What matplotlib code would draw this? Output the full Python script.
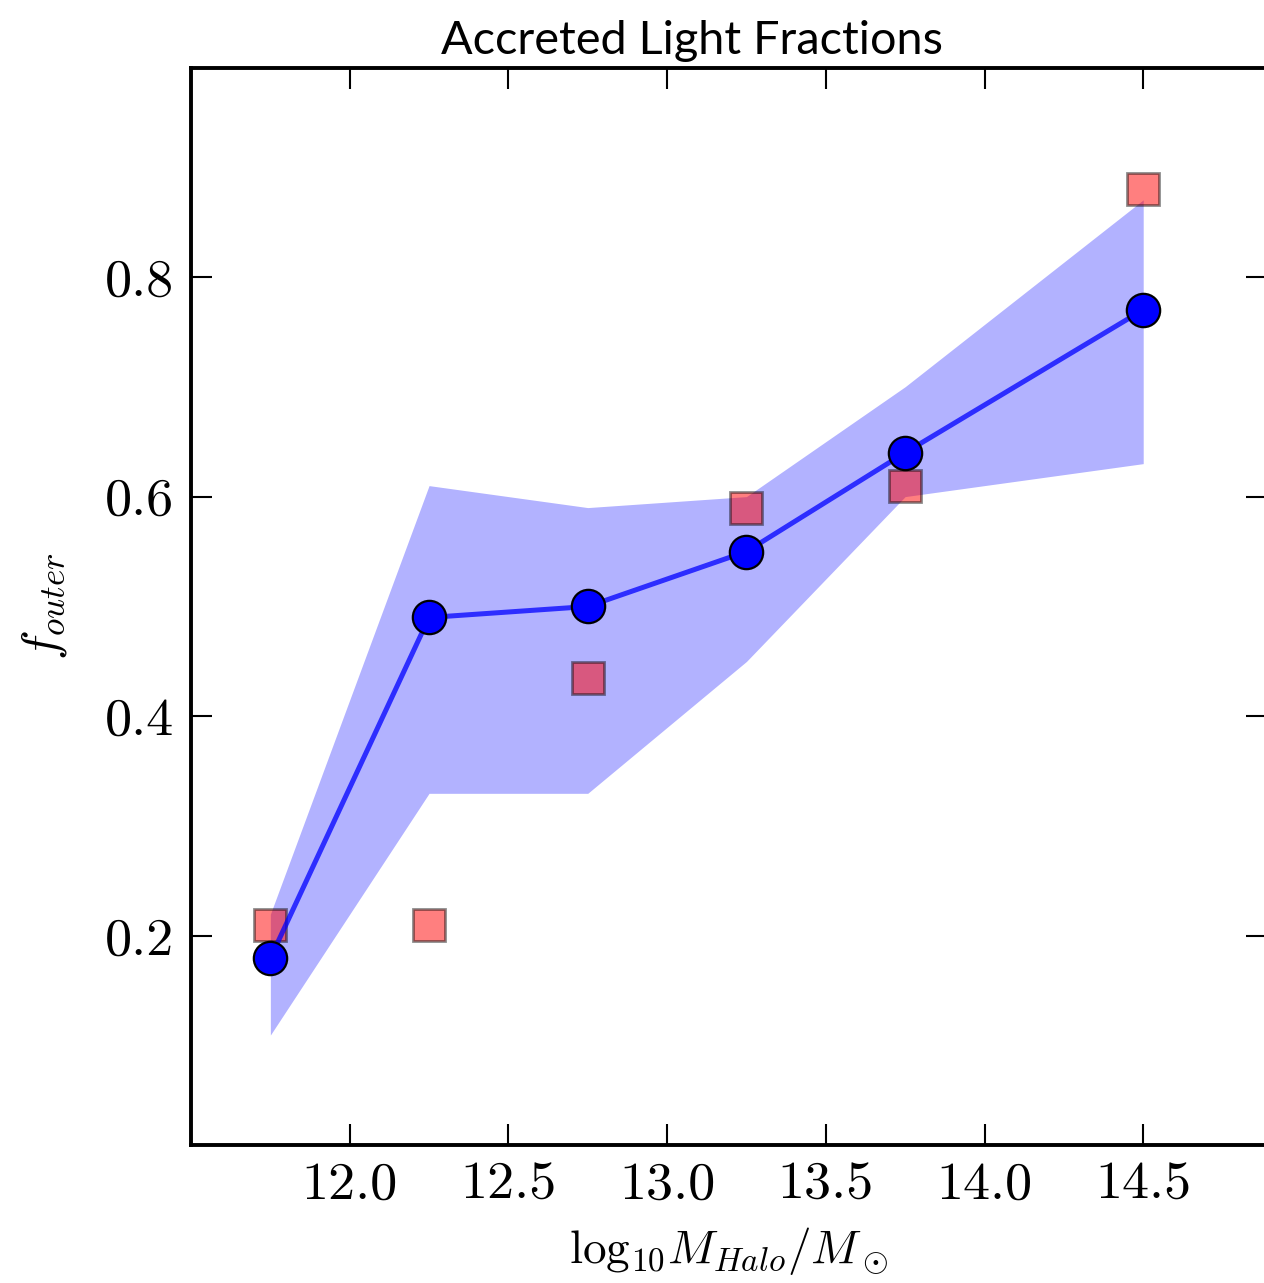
import matplotlib
matplotlib.use("Agg")
import matplotlib.pyplot as plt

halo_mass = [11.75, 12.25, 12.75, 13.25, 13.75, 14.5]
f_outer_median = [0.18, 0.49, 0.50, 0.55, 0.64, 0.77]
f_outer_upper = [0.22, 0.61, 0.59, 0.60, 0.70, 0.87]
f_outer_lower = [0.11, 0.33, 0.33, 0.45, 0.60, 0.63]
f_outer_obs = [0.21, 0.21, 0.435, 0.59, 0.61, 0.88]

xticks = [12.0, 12.5, 13.0, 13.5, 14.0, 14.5]
yticks = [0.2, 0.4, 0.6, 0.8]

plt.rcParams['mathtext.fontset'] = 'cm'
plt.rcParams['font.family'] = ['cmr10', 'DejaVu Serif']
plt.rcParams['axes.formatter.use_mathtext'] = True

W, H = 1264, 1283
fig = plt.figure(figsize=(W / 100, H / 100), dpi=100)
left, right, bottom, top = 191, 1267, 1145, 68
ax = fig.add_axes([left / W, 1 - bottom / H, (right - left) / W, (bottom - top) / H])

ax.fill_between(halo_mass, f_outer_lower, f_outer_upper, color='blue', alpha=0.3, linewidth=0)
ax.plot(halo_mass, f_outer_obs, 's', markersize=23, markerfacecolor=(1, 0, 0, 0.5),
        markeredgecolor=(0, 0, 0, 0.45), markeredgewidth=2)
ax.plot(halo_mass, f_outer_median, '-', color='blue', alpha=0.75, linewidth=3.6)
ax.plot(halo_mass, f_outer_median, 'o', markersize=24, markerfacecolor='blue',
        markeredgecolor='black', markeredgewidth=1.6)

ax.set_xlim(11.5, 14.89)
ax.set_ylim(0.01, 0.99)
ax.set_xticks(xticks)
ax.set_yticks(yticks)
ax.set_xticklabels([f"{t:.1f}" for t in xticks])
ax.set_yticklabels([f"{t:.1f}" for t in yticks])
ax.tick_params(direction='in', length=15, width=1.5, top=True, right=True,
               labelsize=39, pad=12)
for s in ax.spines.values():
    s.set_linewidth(2.8)

ax.set_xlabel(r'$\mathrm{log}_{10}M_{Halo}/M_\odot$', fontsize=34, labelpad=12)
ax.set_ylabel(r'$f_{outer}$', fontsize=36, labelpad=26)
ax.set_title('Accreted Light Fractions', fontsize=33.7, family=['Lato', 'DejaVu Sans'],
             x=0.466, pad=10)

fig.savefig('out.png', dpi=100)
